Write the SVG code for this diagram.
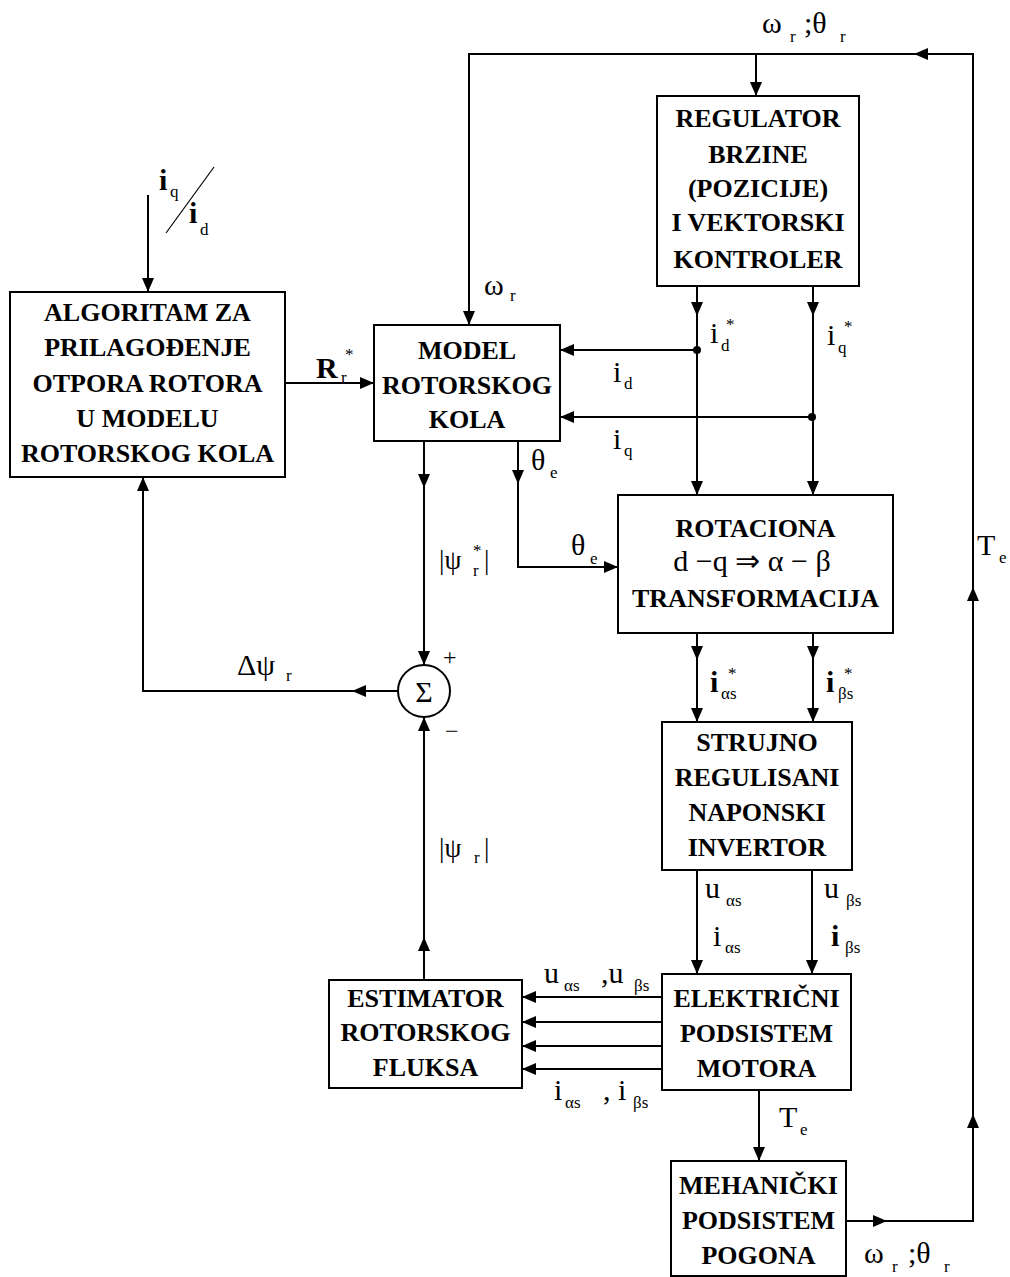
<svg xmlns="http://www.w3.org/2000/svg" width="1010" height="1277" viewBox="0 0 1010 1277">
<style>
.box{fill:#fff;stroke:#000;stroke-width:2}
.t{font-family:"Liberation Serif",serif;font-size:26px;font-weight:bold;text-anchor:middle;fill:#000}
.m{font-family:"Liberation Serif",serif;font-size:30px;fill:#000}
.s{font-family:"Liberation Serif",serif;font-size:17px;fill:#000}
.ln{fill:none;stroke:#000;stroke-width:2}
.ar{fill:none;stroke:#000;stroke-width:2;marker-end:url(#a)}
</style>
<defs>
<marker id="a" viewBox="0 0 14 12" refX="14" refY="6" markerWidth="14" markerHeight="12" markerUnits="userSpaceOnUse" orient="auto">
<path d="M0,0 L14,6 L0,12 Z" fill="#000"/>
</marker>
</defs>
<rect width="1010" height="1277" fill="#fff"/>

<g id="connectors">
<path class="ar" d="M846,1221 H887"/>
<path class="ar" d="M887,1221 H973 V1114"/>
<path class="ar" d="M973,1114 V587"/>
<path class="ar" d="M973,587 V54 H914"/>
<path class="ar" d="M914,54 H469 V325"/>
<path class="ar" d="M756,54 V96"/>
<path class="ar" d="M148,195 V292"/>
<path class="ar" d="M285,383 H374"/>
<path class="ar" d="M697,286 V316"/>
<path class="ar" d="M697,316 V495"/>
<path class="ar" d="M813,286 V316"/>
<path class="ar" d="M813,316 V495"/>
<path class="ar" d="M697,350 H560"/>
<path class="ar" d="M812,417 H560"/>
<circle cx="697" cy="350" r="4" fill="#000"/>
<circle cx="812" cy="417" r="4" fill="#000"/>
<path class="ar" d="M424,441 V488"/>
<path class="ar" d="M424,488 V665"/>
<path class="ar" d="M518,441 V484"/>
<path class="ar" d="M518,484 V567 H618"/>
<path class="ar" d="M398,691 H352"/>
<path class="ar" d="M352,691 H143 V477"/>
<path class="ar" d="M697,633 V660"/>
<path class="ar" d="M697,660 V722"/>
<path class="ar" d="M813,633 V660"/>
<path class="ar" d="M813,660 V722"/>
<path class="ar" d="M697,870 V974"/>
<path class="ar" d="M812,870 V974"/>
<path class="ar" d="M662,997 H522"/>
<path class="ar" d="M662,1022 H522"/>
<path class="ar" d="M662,1046 H522"/>
<path class="ar" d="M662,1069 H522"/>
<path class="ar" d="M424,980 V937"/>
<path class="ar" d="M424,937 V717"/>
<path class="ar" d="M759,1090 V1161"/>
<line class="ln" x1="166" y1="233" x2="214" y2="167" style="stroke-width:1.2"/>
</g>

<g id="regulator">
<rect class="box" x="657" y="96" width="202" height="190"/>
<text class="t" x="758" y="127">REGULATOR</text>
<text class="t" x="758" y="163">BRZINE</text>
<text class="t" x="758" y="197">(POZICIJE)</text>
<text class="t" x="758" y="231">I VEKTORSKI</text>
<text class="t" x="758" y="268">KONTROLER</text>
</g>

<g id="algoritam">
<rect class="box" x="10" y="292" width="275" height="185"/>
<text class="t" x="147.5" y="321">ALGORITAM ZA</text>
<text class="t" x="147.5" y="356">PRILAGOĐENJE</text>
<text class="t" x="147.5" y="392">OTPORA ROTORA</text>
<text class="t" x="147.5" y="427">U MODELU</text>
<text class="t" x="147.5" y="462">ROTORSKOG KOLA</text>
</g>

<g id="model">
<rect class="box" x="374" y="325" width="186" height="116"/>
<text class="t" x="467" y="359">MODEL</text>
<text class="t" x="467" y="394">ROTORSKOG</text>
<text class="t" x="467" y="428">KOLA</text>
</g>

<g id="rotaciona">
<rect class="box" x="618" y="495" width="275" height="138"/>
<text class="t" x="755.5" y="537">ROTACIONA</text>
<text class="m" x="752" y="571" style="text-anchor:middle;font-size:30px">d −q ⇒ α − β</text>
<text class="t" x="755.5" y="607">TRANSFORMACIJA</text>
</g>

<g id="sum">
<circle cx="424" cy="691" r="26" fill="#fff" stroke="#000" stroke-width="2"/>
<text class="m" x="424" y="702" style="text-anchor:middle;font-size:30px">Σ</text>
<text class="m" x="443" y="665" style="font-size:24px">+</text>
<text class="m" x="445" y="739" style="font-size:24px">−</text>
</g>

<g id="strujno">
<rect class="box" x="662" y="722" width="190" height="148"/>
<text class="t" x="757" y="751">STRUJNO</text>
<text class="t" x="757" y="786">REGULISANI</text>
<text class="t" x="757" y="821">NAPONSKI</text>
<text class="t" x="757" y="856">INVERTOR</text>
</g>

<g id="elektricni">
<rect class="box" x="662" y="974" width="189" height="116"/>
<text class="t" x="756.5" y="1007">ELEKTRIČNI</text>
<text class="t" x="756.5" y="1042">PODSISTEM</text>
<text class="t" x="756.5" y="1077">MOTORA</text>
</g>

<g id="estimator">
<rect class="box" x="329" y="980" width="193" height="108"/>
<text class="t" x="425.5" y="1007">ESTIMATOR</text>
<text class="t" x="425.5" y="1041">ROTORSKOG</text>
<text class="t" x="425.5" y="1076">FLUKSA</text>
</g>

<g id="mehanicki">
<rect class="box" x="671" y="1161" width="175" height="115"/>
<text class="t" x="758.5" y="1194">MEHANIČKI</text>
<text class="t" x="758.5" y="1229">PODSISTEM</text>
<text class="t" x="758.5" y="1264">POGONA</text>
</g>

<g id="labels">
<text class="m" x="762" y="33">ω</text><text class="s" x="790" y="42">r</text>
<text class="m" x="804" y="33">;θ</text><text class="s" x="840" y="42">r</text>

<text class="m" x="484" y="295">ω</text><text class="s" x="510" y="301">r</text>

<text class="m" x="316" y="378" style="font-weight:bold">R</text><text class="s" x="341" y="383">r</text><text class="s" x="345" y="360">*</text>

<text class="m" x="159" y="190" style="font-weight:bold">i</text><text class="s" x="170" y="197">q</text>
<text class="m" x="189" y="223" style="font-weight:bold">i</text><text class="s" x="200" y="235">d</text>

<text class="m" x="710" y="343">i</text><text class="s" x="721" y="351">d</text><text class="s" x="726" y="330">*</text>
<text class="m" x="827" y="345">i</text><text class="s" x="838" y="353">q</text><text class="s" x="844" y="332">*</text>

<text class="m" x="613" y="382">i</text><text class="s" x="624" y="389">d</text>
<text class="m" x="613" y="449">i</text><text class="s" x="624" y="456">q</text>

<text class="m" x="531" y="470">θ</text><text class="s" x="550" y="478">e</text>
<text class="m" x="571" y="555">θ</text><text class="s" x="590" y="564">e</text>

<text class="m" x="439" y="569" style="font-size:27px">|ψ</text><text class="s" x="473" y="576">r</text><text class="s" x="473" y="556">*</text><text class="m" x="484" y="569" style="font-size:27px">|</text>

<text class="m" x="237" y="675">Δψ</text><text class="s" x="286" y="681">r</text>

<text class="m" x="710" y="692" style="font-weight:bold">i</text><text class="s" x="721" y="699">αs</text><text class="s" x="728" y="679">*</text>
<text class="m" x="826" y="692" style="font-weight:bold">i</text><text class="s" x="838" y="699">βs</text><text class="s" x="844" y="679">*</text>

<text class="m" x="439" y="857" style="font-size:27px">|ψ</text><text class="s" x="474" y="863">r</text><text class="m" x="484" y="857" style="font-size:27px">|</text>

<text class="m" x="705" y="898">u</text><text class="s" x="726" y="906">αs</text>
<text class="m" x="713" y="946">i</text><text class="s" x="725" y="953">αs</text>
<text class="m" x="824" y="898">u</text><text class="s" x="846" y="906">βs</text>
<text class="m" x="831" y="946" style="font-weight:bold">i</text><text class="s" x="845" y="953">βs</text>

<text class="m" x="544" y="983">u</text><text class="s" x="564" y="991">αs</text>
<text class="m" x="601" y="983">,u</text><text class="s" x="634" y="991">βs</text>

<text class="m" x="554" y="1100">i</text><text class="s" x="565" y="1108">αs</text>
<text class="m" x="603" y="1100">, i</text><text class="s" x="633" y="1108">βs</text>

<text class="m" x="779" y="1127">T</text><text class="s" x="800" y="1135">e</text>
<text class="m" x="977" y="555">T</text><text class="s" x="999" y="563">e</text>

<text class="m" x="864" y="1263">ω</text><text class="s" x="892" y="1272">r</text>
<text class="m" x="908" y="1263">;θ</text><text class="s" x="944" y="1272">r</text>
</g>
</svg>
